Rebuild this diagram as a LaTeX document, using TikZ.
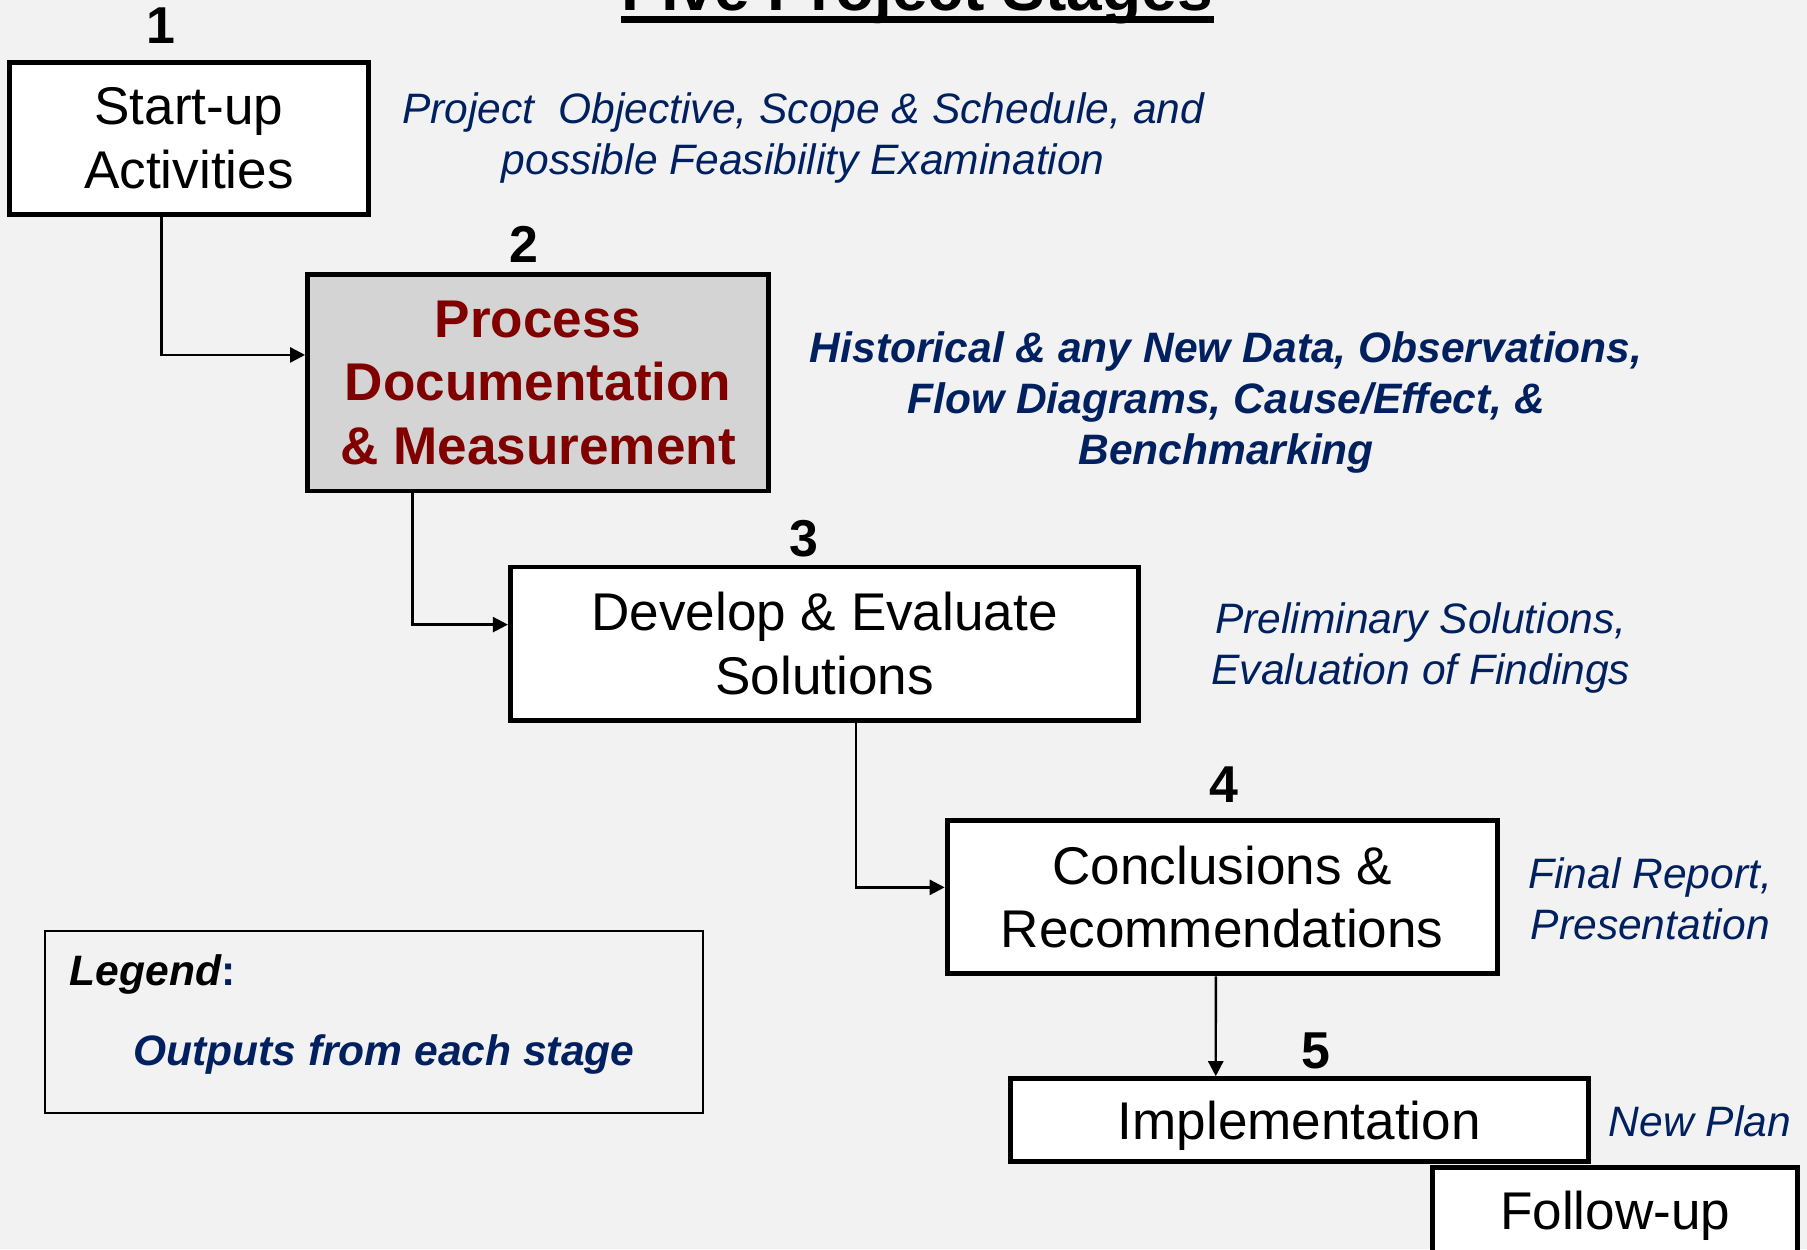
\documentclass[tikz,border=0pt]{standalone}
\usepackage{fontspec}
\setmainfont{Liberation Sans}
\usetikzlibrary{arrows.meta}
\definecolor{outblue}{RGB}{0,32,96}
\definecolor{procred}{RGB}{128,0,0}
\definecolor{boxgray}{RGB}{212,212,212}
\definecolor{bggray}{RGB}{242,242,242}
\newcommand\boxfont{\fontsize{13.1}{15.65}\selectfont}
\newcommand\outfont{\fontsize{10.5}{12.6}\selectfont\itshape}
\newcommand\numfont{\fontsize{12.8}{15}\selectfont\bfseries}
\tikzset{
  stage/.style={draw,line width=1.2pt,fill=white,align=center,font=\boxfont,inner sep=0pt},
  output/.style={align=center,text=outblue,font=\outfont,inner sep=0pt},
  num/.style={font=\numfont,inner sep=0pt}
}
\begin{document}
\begin{tikzpicture}[x=0.01cm,y=-0.01cm,>={Triangle[length=0.13cm,width=0.13cm]}]
      \clip(0,0)rectangle(1568,1084);
      \fill[bggray](0,0)rectangle(1568,1084);
      % title, cut by the top edge
      \node[font=\fontsize{15.8}{19}\selectfont\bfseries,inner sep=0pt,anchor=base](T) at(796,9){Five Project Stages};
      \draw[line width=0.055cm]([yshift=-0.08cm]T.base west)--([yshift=-0.08cm]T.base east);
      % stages
      \node[stage,minimum width=3.12cm,minimum height=1.32cm](S1) at(164,120){Start-up\\Activities};
      \node[stage,fill=boxgray,text=procred,font=\boxfont\bfseries,minimum width=4cm,minimum height=1.88cm](S2) at(467,332){Process\\Documentation\\\& Measurement};
      \node[stage,minimum width=5.45cm,minimum height=1.33cm](S3) at(715.5,558.5){Develop \& Evaluate\\Solutions};
      \node[stage,minimum width=4.77cm,minimum height=1.33cm](S4) at(1060.5,778.5){Conclusions \&\\Recommendations};
      \node[stage,text depth=0pt,minimum width=5.01cm,minimum height=0.72cm](S5) at(1127.5,972){Implementation};
      \node[stage,text depth=0pt,minimum width=3.17cm,minimum height=0.74cm](S6) at(1401.5,1050){Follow-up};
      \node[num](N1) at(140,22){1};
      \node[num](N2) at(455,212){2};
      \node[num](N3) at(698,467){3};
      \node[num](N4) at(1062,681){4};
      \node[num](N5) at(1142,912){5};
      % outputs
      \node[output](O1) at(697,120){Project~ Objective, Scope \& Schedule, and\\possible Feasibility Examination};
      \node[output,font=\outfont\bfseries](O2) at(1064,349){Historical \& any New Data, Observations,\\Flow Diagrams, Cause/Effect, \&\\Benchmarking};
      \node[output](O3) at(1233,562.5){Preliminary Solutions,\\Evaluation of Findings};
      \node[output](O4) at(1432,779.5){Final Report,\\Presentation};
      \node[output](O5) at(1475,973){New Plan};
      \foreach \a/\b/\dx/\dy in {S1/S2/-0.24/0.24, S2/S3/-1.09/0.165, S3/S4/0.275/0.085}{
        \draw[->,line width=0.6pt]([xshift=\dx cm]\a.south)|-([yshift=\dy cm]\b.west);
      }
      \draw[->,line width=0.6pt]([xshift=-0.055cm]S4.south)--([xshift=-0.725cm]S5.north);
      % legend
      \node[draw,line width=0.5pt,minimum width=5.71cm,minimum height=1.58cm,inner sep=0pt](L) at(324.5,887){};
      \node[anchor=west,font=\outfont\bfseries,inner sep=0pt](Lh) at(60,846){Legend\textcolor{outblue}{\upshape:}};
      \node[output,font=\outfont\bfseries](Lo) at(333,915){Outputs from each stage};
    \end{tikzpicture}
\end{document}
